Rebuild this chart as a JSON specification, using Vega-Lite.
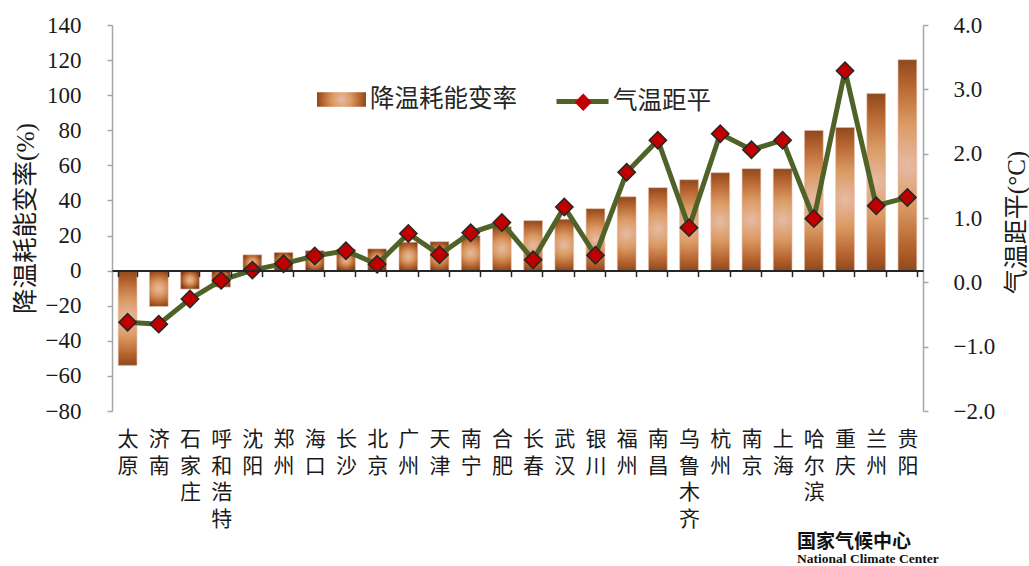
{
  "$schema": "https://vega.github.io/schema/vega-lite/v6.json",
  "width": 811,
  "height": 386,
  "autosize": {"type": "none"},
  "padding": {"left": 112, "top": 25, "right": 106, "bottom": 155},
  "background": "white",
  "config": {
    "view": {"stroke": null},
    "font": "Liberation Serif",
    "axis": {"grid": false},
    "legend": {"padding": 0, "labelFont": "Noto Sans CJK SC", "labelFontSize": 24.5, "labelColor": "#262626", "title": null}
  },
  "title": {
    "text": "国家气候中心",
    "subtitle": "National Climate Center",
    "orient": "bottom",
    "anchor": "start",
    "frame": "group",
    "dx": 685,
    "offset": 4,
    "font": "Noto Sans CJK SC",
    "fontSize": 19,
    "fontWeight": "bold",
    "color": "#111111",
    "subtitleFont": "Liberation Serif",
    "subtitleFontSize": 13.5,
    "subtitleFontWeight": "bold",
    "subtitleColor": "#111111",
    "subtitlePadding": 0
  },
  "data": {
    "values": [
      {"city": "太原", "rate": -54, "anom": -0.62},
      {"city": "济南", "rate": -20.4, "anom": -0.65},
      {"city": "石家庄", "rate": -10.5, "anom": -0.26},
      {"city": "呼和浩特", "rate": -9.4, "anom": 0.03},
      {"city": "沈阳", "rate": 9.0, "anom": 0.19},
      {"city": "郑州", "rate": 10.3, "anom": 0.29},
      {"city": "海口", "rate": 11.4, "anom": 0.41},
      {"city": "长沙", "rate": 12.2, "anom": 0.49},
      {"city": "北京", "rate": 12.4, "anom": 0.28},
      {"city": "广州", "rate": 16.2, "anom": 0.76},
      {"city": "天津", "rate": 16.5, "anom": 0.43},
      {"city": "南宁", "rate": 20.0, "anom": 0.77},
      {"city": "合肥", "rate": 25.1, "anom": 0.93},
      {"city": "长春", "rate": 28.5, "anom": 0.35},
      {"city": "武汉", "rate": 29.3, "anom": 1.17},
      {"city": "银川", "rate": 35.3, "anom": 0.42},
      {"city": "福州", "rate": 42.1, "anom": 1.71},
      {"city": "南昌", "rate": 47.3, "anom": 2.21},
      {"city": "乌鲁木齐", "rate": 51.8, "anom": 0.85},
      {"city": "杭州", "rate": 55.8, "anom": 2.31},
      {"city": "南京", "rate": 58.1, "anom": 2.06},
      {"city": "上海", "rate": 58.1, "anom": 2.21},
      {"city": "哈尔滨", "rate": 79.9, "anom": 0.99},
      {"city": "重庆", "rate": 81.6, "anom": 3.29},
      {"city": "兰州", "rate": 100.9, "anom": 1.19},
      {"city": "贵阳", "rate": 120.2, "anom": 1.32}
    ]
  },
  "encoding": {
    "x": {
      "field": "city",
      "type": "nominal",
      "sort": null,
      "scale": {"paddingInner": 0.4, "paddingOuter": 0.2},
      "axis": {
        "title": null,
        "offset": -140.4,
        "zindex": 1,
        "domainColor": "#262626",
        "domainWidth": 2,
        "tickColor": "#262626",
        "tickWidth": 1.5,
        "tickSize": 6,
        "tickBand": "extent",
        "labelAngle": 0,
        "labelPadding": 152,
        "labelBaseline": "top",
        "labelFont": "Noto Sans CJK SC",
        "labelFontSize": 21,
        "labelLineHeight": 26.5,
        "labelColor": "#1a1a1a",
        "labelOverlap": false,
        "labelBound": false,
        "labelExpr": "split(datum.label, '')"
      }
    }
  },
  "layer": [
    {
      "mark": {
        "type": "bar",
        "stroke": "#E9B9A6",
        "strokeWidth": 0.6,
        "fill": {
          "gradient": "radial",
          "x1": 0.5, "y1": 0.5, "r1": 0,
          "x2": 0.5, "y2": 0.5, "r2": 0.56,
          "stops": [
            {"offset": 0, "color": "#E6BBA4"},
            {"offset": 0.35, "color": "#DB9A63"},
            {"offset": 0.7, "color": "#B4622D"},
            {"offset": 1, "color": "#7A3B15"}
          ]
        }
      },
      "encoding": {
        "y": {
          "field": "rate",
          "type": "quantitative",
          "scale": {"domain": [-80, 140], "nice": false, "zero": false},
          "axis": {
            "orient": "left",
            "values": [-80, -60, -40, -20, 0, 20, 40, 60, 80, 100, 120, 140],
            "domainColor": "#A6A6A6",
            "domainWidth": 1.5,
            "tickColor": "#A6A6A6",
            "tickWidth": 1.5,
            "tickSize": 5,
            "labelPadding": 26,
            "labelFont": "Liberation Serif",
            "labelFontSize": 23,
            "labelColor": "#1a1a1a",
            "title": "降温耗能变率(%)",
            "titleFont": "Liberation Serif, Noto Sans CJK SC",
            "titleFontSize": 25.5,
            "titleFontWeight": "normal",
            "titleColor": "#1a1a1a",
            "titleX": -87,
            "titleY": 193,
            "titleAngle": 270,
            "titleAlign": "center",
            "titleBaseline": "middle"
          }
        },
        "opacity": {
          "datum": "降温耗能变率",
          "type": "nominal",
          "scale": {"range": [1]},
          "legend": {
            "orient": "none",
            "legendX": 205,
            "legendY": 50,
            "symbolType": "M-1,-0.3H1V0.3H-1Z",
            "symbolSize": 2401,
            "symbolStrokeWidth": 0,
            "labelOffset": 4,
            "encode": {
              "symbols": {
                "update": {
                  "opacity": {"value": 1},
                  "fill": {
                    "value": {
                      "gradient": "radial",
                      "x1": 0.5, "y1": 0.5, "r1": 0,
                      "x2": 0.5, "y2": 0.5, "r2": 0.56,
                      "stops": [
                        {"offset": 0, "color": "#E6BBA4"},
                        {"offset": 0.35, "color": "#DB9A63"},
                        {"offset": 0.7, "color": "#B4622D"},
                        {"offset": 1, "color": "#7A3B15"}
                      ]
                    }
                  }
                }
              }
            }
          }
        }
      }
    },
    {
      "mark": {"type": "line", "strokeWidth": 5},
      "encoding": {
        "y": {
          "field": "anom",
          "type": "quantitative",
          "scale": {"domain": [-2, 4], "nice": false, "zero": false},
          "axis": {
            "orient": "right",
            "values": [-2, -1, 0, 1, 2, 3, 4],
            "format": ".1f",
            "domainColor": "#A6A6A6",
            "domainWidth": 1.5,
            "tickColor": "#A6A6A6",
            "tickWidth": 1.5,
            "tickSize": 5,
            "labelPadding": 25,
            "labelFont": "Liberation Serif",
            "labelFontSize": 23,
            "labelColor": "#1a1a1a",
            "title": "气温距平(°C)",
            "titleFont": "Liberation Serif, Noto Sans CJK SC",
            "titleFontSize": 25,
            "titleFontWeight": "normal",
            "titleColor": "#1a1a1a",
            "titleX": 93,
            "titleY": 197,
            "titleAngle": 270,
            "titleAlign": "center",
            "titleBaseline": "middle"
          }
        },
        "stroke": {
          "datum": "气温距平",
          "type": "nominal",
          "scale": {"range": ["#4F6228"]},
          "legend": {
            "orient": "none",
            "legendX": 442,
            "legendY": 48,
            "symbolType": "stroke",
            "symbolSize": 2704,
            "symbolStrokeWidth": 5,
            "labelOffset": 2
          }
        }
      }
    },
    {
      "mark": {"type": "point", "filled": true, "fill": "#C00000", "stroke": "#262626", "strokeWidth": 1.5, "size": 300, "opacity": 1},
      "encoding": {
        "y": {
          "field": "anom",
          "type": "quantitative",
          "scale": {"domain": [-2, 4], "nice": false, "zero": false},
          "axis": null
        },
        "shape": {
          "datum": "marker",
          "type": "nominal",
          "scale": {"range": ["diamond"]},
          "legend": {
            "orient": "none",
            "legendX": 459,
            "legendY": 65,
            "zindex": 2,
            "symbolSize": 300,
            "symbolFillColor": "#C00000",
            "symbolStrokeColor": "#262626",
            "symbolStrokeWidth": 1.5,
            "labelExpr": "''"
          }
        }
      }
    }
  ],
  "resolve": {"scale": {"y": "independent"}}
}
